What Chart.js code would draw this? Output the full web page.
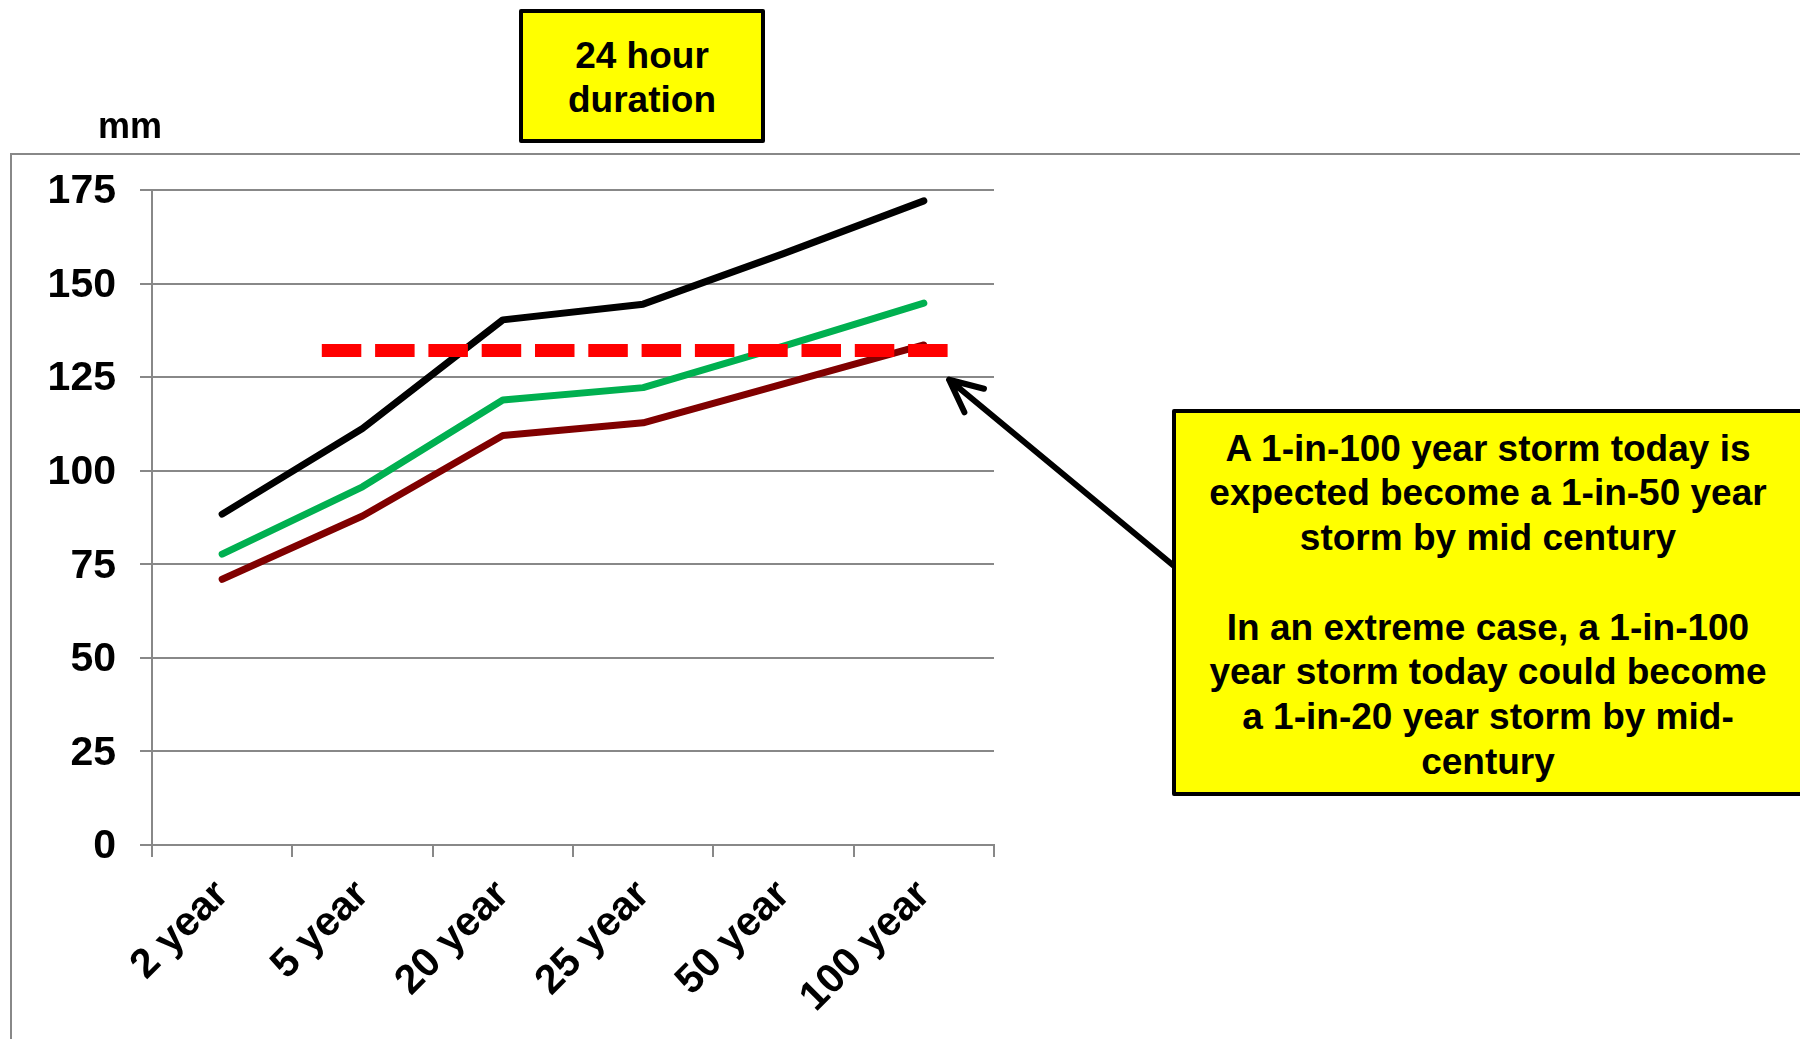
<!DOCTYPE html>
<html>
<head>
<meta charset="utf-8">
<title>24 hour duration</title>
<script src="https://cdn.jsdelivr.net/npm/chart.js@4.4.1/dist/chart.umd.min.js"></script>
<style>
  html, body { margin: 0; padding: 0; background: #fff; }
  #page {
    position: relative; width: 1800px; height: 1039px; overflow: hidden;
    font-family: "Liberation Sans", Arial, sans-serif; font-weight: bold; color: #000;
  }
  #frame {
    position: absolute; left: 10px; top: 153px; width: 1800px; height: 900px;
    border-left: 2px solid #888; border-top: 2px solid #888;
  }
  #chart { position: absolute; left: 0; top: 0; }
  .box {
    position: absolute; box-sizing: border-box; background: #ff0; border: 4px solid #000;
    border-radius: 2px; display: flex; align-items: center; justify-content: center;
    text-align: center;
  }
  #title { left: 519px; top: 9px; width: 246px; height: 134px; font-size: 37px; line-height: 44px; padding-top: 4px; }
  #note { left: 1172px; top: 409px; width: 632px; height: 387px; font-size: 37px; line-height: 44.7px; padding-top: 6px; }
  #unit { position: absolute; left: 98px; top: 108px; font-size: 36px; line-height: 36px; }
</style>
</head>
<body>
<div id="page">
  <div id="frame"></div>
  <canvas id="chart" width="1800" height="1039"></canvas>
  <div id="unit">mm</div>
  <div class="box" id="title">24 hour<br>duration</div>
  <div class="box" id="note">A 1-in-100 year storm today is<br>expected become a 1-in-50 year<br>storm by mid century<br><br>In an extreme case, a 1-in-100<br>year storm today could become<br>a 1-in-20 year storm by mid-<br>century</div>
</div>
<script>
// return periods on the x axis
const categories = ['2 year', '5 year', '20 year', '25 year', '50 year', '100 year'];

// 24 hour rainfall depth (mm) for each return period
const current = [71.0, 87.9, 109.4, 112.8, 123.2, 133.6];
const midCentury = [77.7, 95.7, 118.9, 122.2, 133.3, 144.8];
const midCenturyExtreme = [88.4, 111.3, 140.3, 144.5, 158.0, 172.1];

// today's 1-in-100 year depth, drawn across part of the category range
const today100 = 132.1;
const today100Span = [0.71, 5.18];

// where the callout arrow points (category units, mm)
const arrowTip = [5.18, 124.3];

const yMax = 175;
const yStep = 25;

const FONT = '"Liberation Sans", Arial, sans-serif';
const GRID = '#888888';

const calloutArrow = {
  id: 'calloutArrow',
  afterDatasetsDraw(chart) {
    const {ctx, scales} = chart;
    const tipX = scales.x2.getPixelForValue(arrowTip[0]);
    const tipY = scales.y.getPixelForValue(arrowTip[1]);
    // tail sits on the left edge of the note box
    const tailX = 1174, tailY = 566;
    const ang = Math.atan2(tipY - tailY, tipX - tailX);
    const head = 36, spread = 0.44;
    ctx.save();
    ctx.strokeStyle = '#000';
    ctx.lineWidth = 6;
    ctx.lineCap = 'round';
    ctx.lineJoin = 'round';
    ctx.beginPath();
    ctx.moveTo(tailX, tailY);
    ctx.lineTo(tipX, tipY);
    ctx.moveTo(tipX - head * Math.cos(ang - spread), tipY - head * Math.sin(ang - spread));
    ctx.lineTo(tipX, tipY);
    ctx.lineTo(tipX - head * Math.cos(ang + spread), tipY - head * Math.sin(ang + spread));
    ctx.stroke();
    ctx.restore();
  }
};

const seriesLine = color => ({
  borderColor: color,
  backgroundColor: color,
  borderWidth: 7,
  borderCapStyle: 'round',
  borderJoinStyle: 'round',
  tension: 0,
  pointRadius: 0,
  fill: false
});

new Chart(document.getElementById('chart'), {
  type: 'line',
  data: {
    labels: categories,
    datasets: [
      {
        label: 'Today 1-in-100',
        data: today100Span.map(x => ({x, y: today100})),
        xAxisID: 'x2',
        borderColor: '#ff0000',
        borderWidth: 13,
        borderDash: [39.5, 13.8],
        borderCapStyle: 'butt',
        pointRadius: 0,
        fill: false
      },
      Object.assign({label: 'Mid century', data: midCentury}, seriesLine('#00b050')),
      Object.assign({label: 'Today', data: current}, seriesLine('#800000')),
      Object.assign({label: 'Mid century extreme', data: midCenturyExtreme}, seriesLine('#000000'))
    ]
  },
  options: {
    responsive: false,
    animation: false,
    layout: {padding: {left: 0, top: 190, right: 806, bottom: 4}},
    plugins: {
      legend: {display: false},
      tooltip: {enabled: false}
    },
    scales: {
      x: {
        offset: true,
        grid: {offset: true, drawOnChartArea: false, drawTicks: true, tickLength: 12, color: GRID, lineWidth: 2},
        border: {color: GRID, width: 2},
        ticks: {
          color: '#000',
          font: {family: FONT, size: 41, weight: 'bold'},
          minRotation: 45,
          maxRotation: 45,
          padding: 14
        },
        afterFit(scale) { scale.height = 190; }
      },
      x2: {type: 'linear', min: -0.5, max: 5.5, display: false},
      y: {
        min: 0,
        max: yMax,
        ticks: {
          stepSize: yStep,
          color: '#000',
          font: {family: FONT, size: 41, weight: 'bold'},
          padding: 24,
          labelOffset: 2
        },
        grid: {color: GRID, lineWidth: 2, tickLength: 12},
        border: {color: GRID, width: 2},
        afterFit(scale) { scale.width = 152; }
      }
    }
  },
  plugins: [calloutArrow]
});
</script>
</body>
</html>
